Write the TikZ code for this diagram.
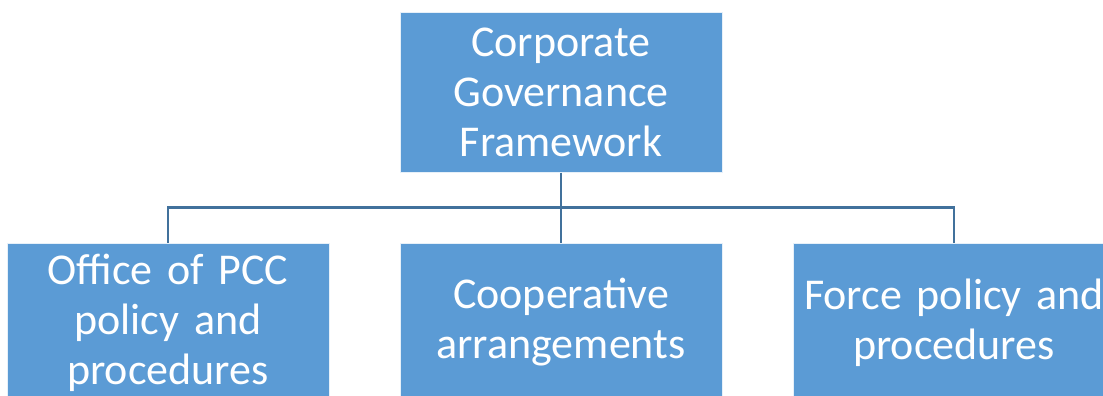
\documentclass[tikz,border=0pt]{standalone}
\usepackage{fontspec}
\setmainfont{Carlito}
\definecolor{boxblue}{HTML}{5B9BD5}
\definecolor{linkblue}{HTML}{41719C}
\begin{document}
\begin{tikzpicture}[x=1pt,y=1pt,
  orgbox/.style={fill=boxblue, draw=white!85!boxblue, line width=1pt, text=white,
    minimum width=322pt, minimum height=159pt, text width=330pt, align=center,
    inner sep=0pt, font=\fontsize{44}{50}\selectfont},
  conn/.style={draw=linkblue, line width=2.2pt}]
\useasboundingbox (0,0) rectangle (1103,-396);
\clip (0,0) rectangle (1103,-396);
\node[orgbox, text width=318pt] (top) at (561,-92.5) {Corporate\\Governance\\Framework};
\node[orgbox, text width=318pt] (left) at (168,-322.5) {Office of PCC\\policy and\\procedures};
\node[orgbox, text width=318pt] (mid) at (561,-322.5) {Cooperative\\arrangements};
\node[orgbox, text width=318pt] (right) at (954,-322.5) {Force policy and\\procedures};
\coordinate (bus) at (561,-207.5);
\draw[conn] (top.south) -- (mid.north);
\draw[conn] (left.north) |- (bus) -| (right.north);
\end{tikzpicture}
\end{document}
